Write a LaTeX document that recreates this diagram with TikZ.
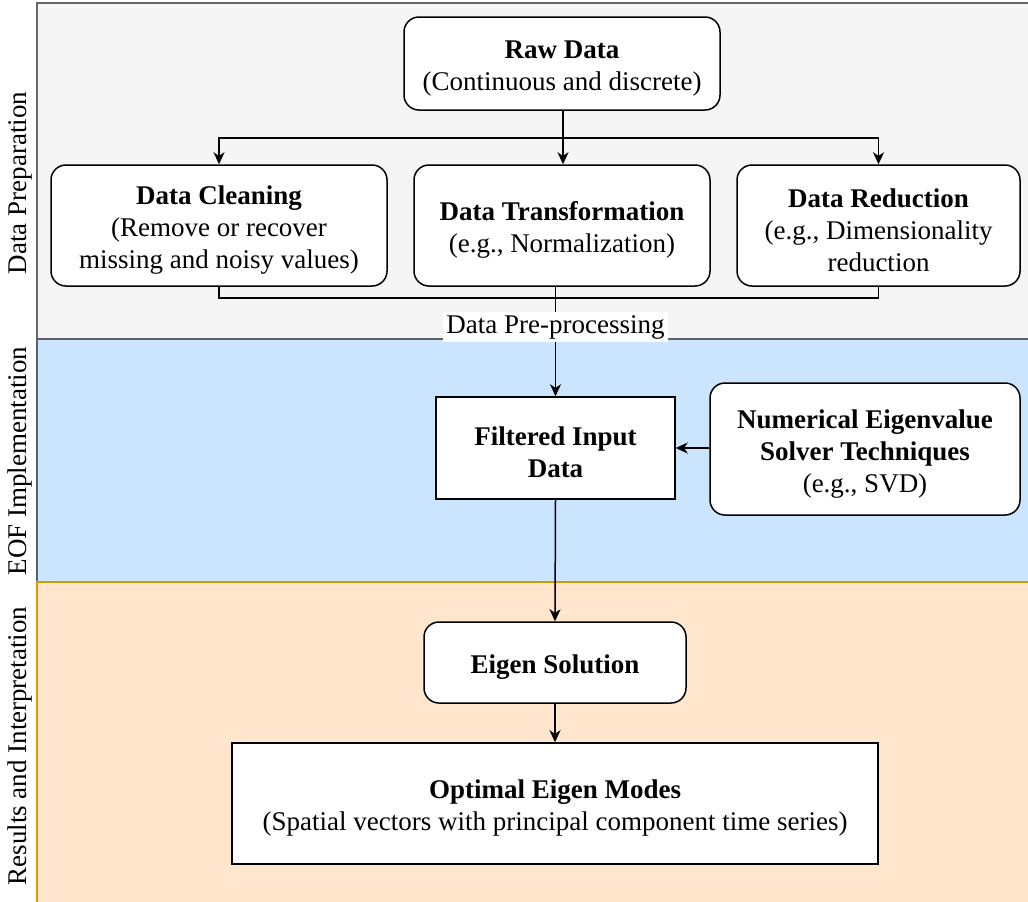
\documentclass[tikz,border=0pt]{standalone}
\usepackage{fontspec}
\setmainfont{Liberation Serif}
\usetikzlibrary{arrows.meta,positioning,calc}
\definecolor{ink}{HTML}{000000}
\definecolor{greyfill}{HTML}{F5F5F5}
\definecolor{greyline}{HTML}{666666}
\definecolor{bluefill}{HTML}{CCE5FF}
\definecolor{blueline}{HTML}{36393D}
\definecolor{orangefill}{HTML}{FFE6CC}
\definecolor{orangeline}{HTML}{D79B00}
\newcommand{\ttl}[1]{\rule{0pt}{14pt}\textbf{#1}}
\tikzset{
  box/.style={draw=ink,line width=.75pt,fill=white,inner sep=2pt,align=center,font=\fontsize{13.5}{16}\selectfont},
  rbox/.style={box,rounded corners=7.5pt},
  band/.style={line width=.9pt},
  side/.style={rotate=90,font=\fontsize{13.5}{16}\selectfont,text=ink},
  lbl/.style={fill=white,inner sep=1.5pt,font=\fontsize{13.5}{16}\selectfont},
  ln/.style={draw=ink,line width=.75pt},
  ar/.style={ln,-{Stealth[length=6pt,width=5.5pt,inset=1.8pt]}},
}

\begin{document}
\begin{tikzpicture}[x=0.5pt,y=-0.5pt]
  \useasboundingbox (0,0) rectangle (1028,901);
  % bands
  \fill[greyfill] (37,3) rectangle (1040,339);
  \draw[band,greyline] (1040,3) -- (37,3) -- (37,339);
  \fill[bluefill] (37,339) rectangle (1040,582);
  \draw[band,blueline!80] (1040,339) -- (37,339) -- (37,582);
  \fill[orangefill] (37,582) rectangle (1040,910);
  \draw[band,orangeline] (1040,582) -- (37,582) -- (37,910);
  \node[side] (prep) at (20,183) {Data Preparation};
  \node[side] (eof) at (20,461) {EOF Implementation};
  \node[side] (res) at (20,746) {Results and Interpretation};

  % boxes
  \node[rbox,minimum width=158pt,minimum height=46.5pt] (raw) at (562,63.5) {\ttl{Raw Data}\\(Continuous and discrete)};
  \node[rbox,minimum width=168pt,minimum height=60.5pt] (clean) at (219,225.5) {\ttl{Data Cleaning}\\(Remove or recover\\missing and noisy values)};
  \node[rbox,minimum width=148pt,minimum height=60.5pt] (trans) at (562,225.5) {\ttl{Data Transformation}\\(e.g., Normalization)};
  \node[rbox,minimum width=141.5pt,minimum height=60.5pt] (reduce) at (878.5,225.5) {\ttl{Data Reduction}\\(e.g., Dimensionality\\reduction};
  \node[box,minimum width=119.5pt,minimum height=51pt] (filt) at (555.5,448) {\ttl{Filtered Input}\\\textbf{Data}};
  \node[rbox,minimum width=155pt,minimum height=66pt] (solver) at (865,449) {\ttl{Numerical Eigenvalue}\\\textbf{Solver Techniques}\\(e.g., SVD)};
  \node[rbox,minimum width=131pt,minimum height=40.5pt] (eigen) at (555,662.5) {\ttl{Eigen Solution}};
  \node[box,minimum width=323pt,minimum height=60.5pt] (modes) at (555,803.5) {\ttl{Optimal Eigen Modes}\\(Spatial vectors with principal component time series)};

  % connectors
  \coordinate (split) at (563,138);
  \coordinate (join) at (555,298);
  \draw[ln] (raw.south -| split) -- (split);
  \draw[ar] (split) -| (clean.north);
  \draw[ar] (split) -| (reduce.north);
  \draw[ar] (split) -- (trans.north -| split);
  \draw[ln] (clean.south) |- (join) -| (reduce.south);
  \draw[ar] (filt.north |- trans.south) -- node[lbl,pos=.37] (pre) {Data Pre-processing} (filt.north);
  \draw[ar] (solver.west |- filt.east) -- (filt.east);
  \draw[ar] (filt.south) -- (eigen.north);
  \draw[ar] (eigen.south) -- (modes.north);
\end{tikzpicture}
\end{document}
